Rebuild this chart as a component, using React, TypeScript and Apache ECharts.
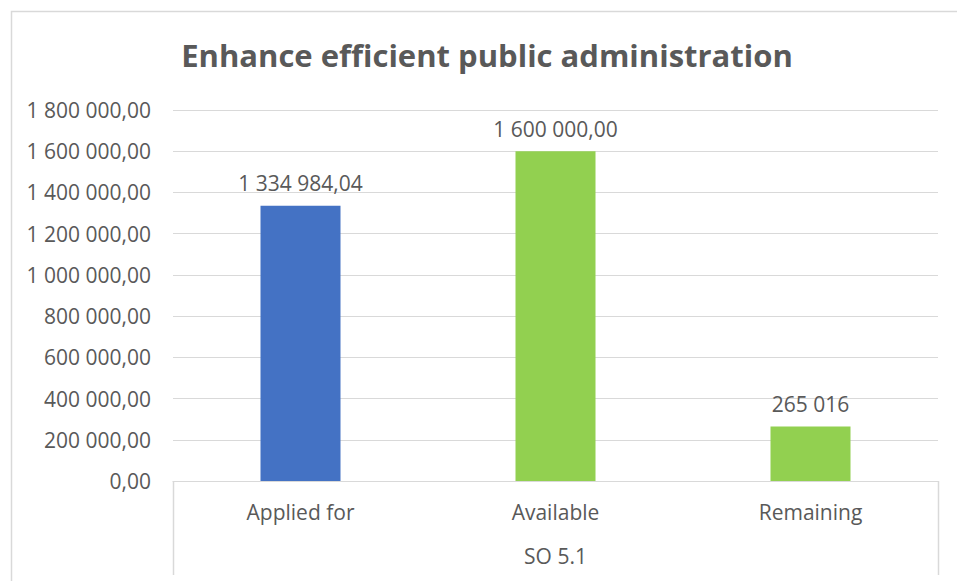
import React, { useEffect, useRef } from "react";
import * as echarts from "echarts";

const titleText = "Enhance efficient public administration";
const categories = ["Applied for", "Available", "Remaining"];
const groupLabels = ["SO 5.1"];
const values = [1334984.04, 1600000, 265016];
const labelDecimals = [2, 2, 0];
const barColors = ["#4472C4", "#92D050", "#92D050"];
const yMin = 0;
const yMax = 1800000;
const yStep = 200000;

function fmt(v: number, decimals: number): string {
  const fixed = v.toFixed(decimals);
  const [intPart, dec] = fixed.split(".");
  const withSpaces = intPart.replace(/\B(?=(\d{3})+(?!\d))/g, " ");
  return dec !== undefined ? withSpaces + "," + dec : withSpaces;
}

const FONT = "'Open Sans', sans-serif";
const TXT = "#595959";
const LINE = "#d9d9d9";
const FS = 21;

export default function App() {
  const ref = useRef<HTMLDivElement>(null);
  useEffect(() => {
    if (!ref.current) return;
    const chart = echarts.init(ref.current, undefined, { renderer: "svg" });
    const gridLeft = 173;
    const gridRight = 19;
    const gridTop = 110;
    const gridBottom = 100;
    const W = 957;
    const H = 581;
    chart.setOption({
      animation: false,
      backgroundColor: "#ffffff",
      textStyle: { fontFamily: FONT },
      title: {
        text: titleText,
        left: 482,
        top: 34,
        textAlign: "center",
        textStyle: { fontFamily: FONT, fontSize: 31, fontWeight: "bold", color: TXT },
      },
      grid: { left: gridLeft, right: gridRight, top: gridTop, bottom: gridBottom, containLabel: false },
      xAxis: [
        {
          type: "category",
          data: categories,
          axisLine: { show: true, lineStyle: { color: LINE, width: 1 } },
          axisTick: { show: false },
          axisLabel: { color: TXT, fontSize: FS, fontFamily: FONT, margin: 20 },
        },
        {
          type: "category",
          position: "bottom",
          offset: 64,
          data: groupLabels,
          axisLine: { show: false },
          axisTick: { show: false },
          axisLabel: { color: TXT, fontSize: FS, fontFamily: FONT, margin: 0 },
        },
      ],
      yAxis: {
        type: "value",
        min: yMin,
        max: yMax,
        interval: yStep,
        axisLine: { show: false },
        axisTick: { show: false },
        splitLine: { lineStyle: { color: LINE, width: 1 } },
        axisLabel: {
          color: TXT,
          fontSize: FS,
          fontFamily: FONT,
          margin: 22,
          formatter: (v: number) => fmt(v, 2),
        },
      },
      series: [
        {
          type: "bar",
          xAxisIndex: 0,
          barWidth: 80,
          data: values.map((v, i) => ({
            value: v,
            itemStyle: { color: barColors[i] },
            label: {
              show: true,
              position: "top",
              distance: 12,
              color: TXT,
              fontSize: FS,
              fontFamily: FONT,
              formatter: () => fmt(v, labelDecimals[i]),
            },
          })),
        },
      ],
      graphic: [
        {
          type: "rect",
          shape: { x: 11.5, y: 11.5, width: W + 20, height: H + 20 },
          style: { fill: "none", stroke: LINE, lineWidth: 1.5 },
          silent: true,
        },
        {
          type: "line",
          shape: { x1: gridLeft + 0.5, y1: H - gridBottom, x2: gridLeft + 0.5, y2: 575 },
          style: { stroke: LINE, lineWidth: 1.5 },
          silent: true,
        },
        {
          type: "line",
          shape: { x1: W - gridRight + 0.5, y1: H - gridBottom, x2: W - gridRight + 0.5, y2: 575 },
          style: { stroke: LINE, lineWidth: 1.5 },
          silent: true,
        },
      ],
    });
    return () => chart.dispose();
  }, []);
  return (
    <div
      ref={ref}
      style={{ position: "fixed", left: 0, top: 0, width: 957, height: 581 }}
    />
  );
}
